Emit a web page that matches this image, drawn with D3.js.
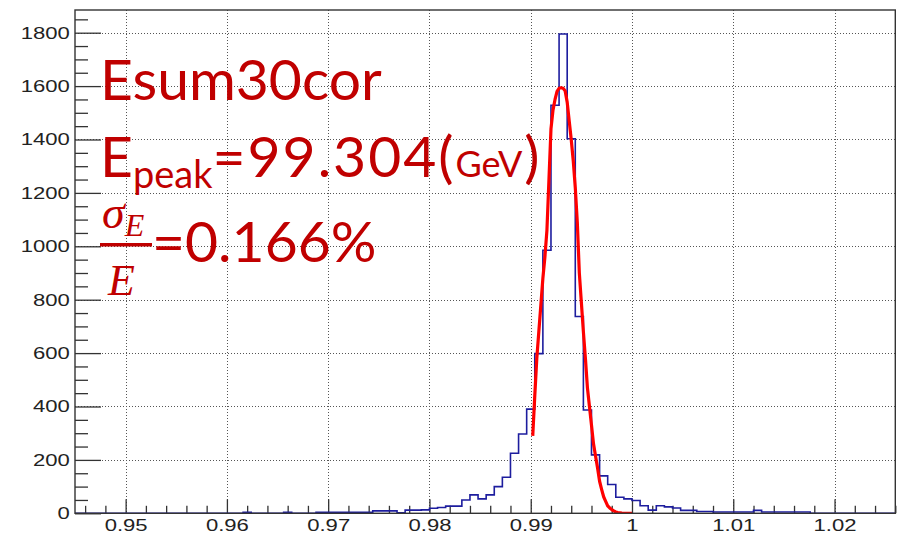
<!DOCTYPE html>
<html>
<head>
<meta charset="utf-8">
<script src="https://cdn.jsdelivr.net/npm/d3@7"></script>
<style>
  html, body { margin: 0; padding: 0; background: #ffffff; }
  svg { display: block; }
</style>
</head>
<body>
<svg id="chart" width="897" height="534"></svg>
<script>
// Histogram binning: contiguous bins of fixed width starting at firstEdge
const firstEdge = 0.9600;
const binWidth = 0.0008;
const binCounts = [
  0, 0, 4, 0, 0, 0, 0, 4, 0, 0,
  0, 4, 4, 4, 4, 4, 4, 4, 9, 9,
  9, 2, 12, 12, 13, 19, 22, 27, 27, 50,
  69, 54, 69, 100, 135, 225, 297, 390, 598, 985,
  1528, 1795, 1403, 737, 387, 219, 140, 108, 60, 54,
  48, 28, 12, 28, 24, 20, 11, 11, 7, 7,
  5, 5, 5, 5, 5, 11, 5, 5, 5, 5,
  5, 5, 0
];

// Fitted curve, sampled along x
const fitX = [
  0.9902, 0.9904, 0.9906, 0.9908, 0.9910, 0.9912, 0.9914, 0.9916, 0.9918, 0.9920,
  0.9922, 0.9924, 0.9926, 0.9928, 0.9930, 0.9932, 0.9934, 0.9936, 0.9938, 0.9940,
  0.9942, 0.9944, 0.9946, 0.9948, 0.9950, 0.9952, 0.9954, 0.9956, 0.9958, 0.9960,
  0.9962, 0.9964, 0.9966, 0.9968, 0.9970, 0.9972, 0.9974, 0.9976, 0.9978, 0.9980,
  0.9982, 0.9984, 0.9986, 0.9988, 0.9990, 0.9994, 1.0000
];
const fitY = [
  290, 440, 580, 680, 780, 880, 960, 1060, 1250, 1440,
  1510, 1550, 1580, 1592, 1594, 1592, 1582, 1540, 1470, 1400,
  1320, 1220, 1090, 900, 790, 680, 580, 470, 400, 330,
  260, 215, 170, 120, 90, 62, 45, 28, 20, 14,
  9, 5, 3, 2, 1, 0, 0
];

// Axis ranges and ticks
const xRange = [0.945, 1.026];
const yRange = [0, 1885];
const xMajorTicks = [0.95, 0.96, 0.97, 0.98, 0.99, 1.00, 1.01, 1.02];
const xTickLabels = ["0.95", "0.96", "0.97", "0.98", "0.99", "1", "1.01", "1.02"];
const yMajorTicks = [0, 200, 400, 600, 800, 1000, 1200, 1400, 1600, 1800];

// Annotation text
const titleText = "Esum30cor";
const peakLabel = { main: "E", sub: "peak", value: "=99.304(", unit: "GeV", close: ")" };
const resolutionText = "=0.166%";

const svg = d3.select("#chart");
const W = 897, H = 534;
const margin = { left: 75, right: 1.7, top: 10, bottom: 20.7 };
const plotW = W - margin.left - margin.right;
const plotH = H - margin.top - margin.bottom;

const x = d3.scaleLinear().domain(xRange).range([margin.left, margin.left + plotW]);
const y = d3.scaleLinear().domain(yRange).range([margin.top + plotH, margin.top]);

svg.append("rect").attr("width", W).attr("height", H).attr("fill", "#ffffff");

svg.append("defs").append("clipPath").attr("id", "plotClip")
  .append("rect")
  .attr("x", margin.left).attr("y", margin.top)
  .attr("width", plotW).attr("height", plotH);

// Dotted grid at major ticks
const grid = svg.append("g").attr("stroke", "#555").attr("stroke-width", 1)
  .attr("stroke-dasharray", "1,2");
grid.selectAll("line.vx").data(xMajorTicks).join("line")
  .attr("x1", d => Math.round(x(d)) + 0.5).attr("x2", d => Math.round(x(d)) + 0.5)
  .attr("y1", margin.top).attr("y2", margin.top + plotH);
grid.selectAll("line.hy").data(yMajorTicks.filter(d => d > 0)).join("line")
  .attr("y1", d => Math.round(y(d)) + 0.5).attr("y2", d => Math.round(y(d)) + 0.5)
  .attr("x1", margin.left).attr("x2", margin.left + plotW);

// Minor tick values between majors
const xMinor = d3.range(Math.round(xRange[0] / 0.002), Math.round(xRange[1] / 0.002) + 1)
  .map(k => k * 0.002)
  .filter(v => v >= xRange[0] && v <= xRange[1] && !xMajorTicks.some(m => Math.abs(m - v) < 1e-9));
const yMinor = d3.range(0, yRange[1], 50).filter(v => v % 200 !== 0);

const axisColor = "#333";
const labelFont = "'Liberation Sans', Arial, Helvetica, sans-serif";

function styleAxis(g) {
  g.select(".domain").remove();
  g.selectAll(".tick line").attr("stroke", axisColor).attr("stroke-width", 1.3);
}

// Y axis: ticks point into the plot
const yAxisMajor = svg.append("g").attr("transform", `translate(${margin.left},0)`)
  .call(d3.axisLeft(y).tickValues(yMajorTicks).tickSize(-26).tickPadding(4).tickFormat(d3.format("d")));
styleAxis(yAxisMajor);
yAxisMajor.selectAll("text")
  .attr("font-family", labelFont).attr("font-size", 17).attr("fill", "#222")
  .attr("transform", "scale(1.3,1)");
const yAxisMinor = svg.append("g").attr("transform", `translate(${margin.left},0)`)
  .call(d3.axisLeft(y).tickValues(yMinor).tickSize(-13).tickFormat(""));
styleAxis(yAxisMinor);

// X axis
const xAxisMajor = svg.append("g").attr("transform", `translate(0,${margin.top + plotH})`)
  .call(d3.axisBottom(x).tickValues(xMajorTicks).tickSize(-14).tickPadding(6)
    .tickFormat((d, i) => xTickLabels[i]));
styleAxis(xAxisMajor);
xAxisMajor.selectAll("text")
  .attr("font-family", labelFont).attr("font-size", 17).attr("fill", "#222")
  .attr("transform", "scale(1.3,1)");
const xAxisMinor = svg.append("g").attr("transform", `translate(0,${margin.top + plotH})`)
  .call(d3.axisBottom(x).tickValues(xMinor).tickSize(-7.5).tickFormat(""));
styleAxis(xAxisMinor);

// Histogram outline
const histPoints = [{ x: xRange[0], y: 0 }];
binCounts.forEach((c, i) => histPoints.push({ x: firstEdge + i * binWidth, y: c }));
histPoints.push({ x: firstEdge + binCounts.length * binWidth, y: 0 });
histPoints.push({ x: xRange[1], y: 0 });

const plotLayer = svg.append("g").attr("clip-path", "url(#plotClip)");
plotLayer.append("path")
  .datum(histPoints)
  .attr("fill", "none")
  .attr("stroke", "#1d1d9e")
  .attr("stroke-width", 1.6)
  .attr("d", d3.line().x(d => x(d.x)).y(d => y(d.y)).curve(d3.curveStepAfter));

// Fit curve
plotLayer.append("path")
  .datum(fitX.map((v, i) => ({ x: v, y: fitY[i] })))
  .attr("fill", "none")
  .attr("stroke", "#ff0000")
  .attr("stroke-width", 3.2)
  .attr("stroke-linejoin", "round")
  .attr("d", d3.line().x(d => x(d.x)).y(d => y(d.y)));

// Frame
svg.append("rect")
  .attr("x", margin.left).attr("y", margin.top)
  .attr("width", plotW).attr("height", plotH)
  .attr("fill", "none").attr("stroke", axisColor).attr("stroke-width", 1.4);

// Annotations
const red = "#c00000";
const textFont = "Lato, 'Open Sans', sans-serif";
const mathFont = "'Liberation Serif', 'DejaVu Serif', serif";

svg.append("text")
  .attr("x", 100).attr("y", 100)
  .attr("font-family", textFont).attr("font-size", 57).attr("fill", red)
  .text(titleText);

const peak = svg.append("text")
  .attr("x", 100).attr("y", 177)
  .attr("font-family", textFont).attr("font-size", 57).attr("fill", red);
peak.append("tspan").text(peakLabel.main);
peak.append("tspan").attr("font-size", 38).attr("dy", 11).text(peakLabel.sub);
peak.append("tspan").attr("dy", -11).attr("letter-spacing", 2).text(peakLabel.value);
peak.append("tspan").attr("font-size", 36).attr("letter-spacing", 0).text(peakLabel.unit);
peak.append("tspan").attr("dx", 2).text(peakLabel.close);

// sigma_E / E fraction
svg.append("text")
  .attr("x", 102).attr("y", 228)
  .attr("font-family", mathFont).attr("font-style", "italic")
  .attr("font-size", 46).attr("fill", red)
  .text("σ")
  .append("tspan").attr("font-size", 32).attr("dy", 8).text("E");
svg.append("rect")
  .attr("x", 100).attr("y", 243).attr("width", 52).attr("height", 3.5)
  .attr("fill", red);
svg.append("text")
  .attr("x", 108).attr("y", 295)
  .attr("font-family", mathFont).attr("font-style", "italic")
  .attr("font-size", 44).attr("fill", red)
  .text("E");
svg.append("text")
  .attr("x", 152).attr("y", 262)
  .attr("font-family", textFont).attr("font-size", 57).attr("fill", red)
  .text(resolutionText);
</script>
</body>
</html>
